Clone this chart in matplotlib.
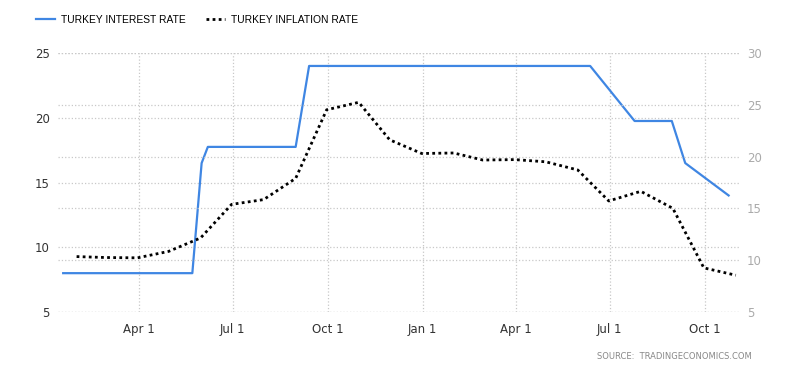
import pandas as pd
import matplotlib
matplotlib.use('Agg')
import matplotlib.pyplot as plt
import matplotlib.dates as mdates

# Turkey interest rate (policy rate decisions)
rate_dates = ['2018-01-18', '2018-03-07', '2018-04-25', '2018-05-23', '2018-06-01', '2018-06-07',
              '2018-07-24', '2018-08-31', '2018-09-13', '2018-10-25', '2018-12-13', '2019-01-16',
              '2019-03-06', '2019-04-25', '2019-06-12', '2019-07-25', '2019-08-30', '2019-09-12',
              '2019-10-24']
rate_values = [8, 8, 8, 8, 16.5, 17.75, 17.75, 17.75, 24, 24, 24, 24, 24, 24, 24, 19.75, 19.75, 16.5, 14]

# Turkey inflation rate (monthly, yoy)
infl_dates = pd.date_range('2018-01-31', '2019-10-31', freq='ME')
infl_values = [10.35, 10.26, 10.23, 10.85, 12.15, 15.39, 15.85, 17.90, 24.52, 25.24, 21.62, 20.30,
               20.35, 19.67, 19.71, 19.50, 18.71, 15.72, 16.65, 15.01, 9.26, 8.55]

tick_dates = ['2018-04-01', '2018-07-01', '2018-10-01', '2019-01-01', '2019-04-01', '2019-07-01', '2019-10-01']
left_ticks = [5, 10, 15, 20, 25]
right_ticks = [5, 10, 15, 20, 25, 30]

blue = '#3f86e3'
grid_kw = dict(color='#c8c8c8', linestyle=':', linewidth=0.9)

fig = plt.figure(figsize=(8, 3.73), dpi=100)
ax = fig.add_axes([0.0725, 0.1635, 0.8525, 0.6944])
ax2 = ax.twinx()

l1, = ax.plot(pd.to_datetime(rate_dates), rate_values, color=blue, lw=1.6, zorder=3)
l2, = ax2.plot(infl_dates, infl_values, color='black', lw=2.0, linestyle=(0, (1, 1.2)), zorder=3)

ax.set_xlim(pd.Timestamp('2018-01-13'), pd.Timestamp('2019-11-04'))
ax.set_ylim(5, 25)
ax2.set_ylim(5, 30)
ax.set_yticks(left_ticks)
ax2.set_yticks(right_ticks)
ax.set_xticks(pd.to_datetime(tick_dates))
ax.xaxis.set_major_formatter(mdates.DateFormatter('%b %-d'))

ax.grid(True, **grid_kw)
ax2.grid(True, axis='y', **grid_kw)
ax.set_axisbelow(True)
ax2.set_axisbelow(True)

for a in (ax, ax2):
    for s in a.spines.values():
        s.set_visible(False)
    a.tick_params(length=0)
ax.tick_params(axis='y', labelsize=8.5, labelcolor='#333333', pad=6)
ax.tick_params(axis='x', labelsize=8.5, labelcolor='#333333', pad=8)
ax2.tick_params(axis='y', labelsize=8.5, labelcolor='#aaaaaa', pad=5)

fig.legend([l1, l2], ['TURKEY INTEREST RATE', 'TURKEY INFLATION RATE'], ncol=2,
           loc='upper left', bbox_to_anchor=(0.033, 0.985), frameon=False,
           handlelength=1.9, handletextpad=0.6, columnspacing=1.9,
           prop={'family': 'Liberation Sans', 'size': 7.4})

fig.text(0.94, 0.045, 'SOURCE:  TRADINGECONOMICS.COM', ha='right', va='center',
         fontsize=6, color='#888888')

fig.savefig('out.png', dpi=100, facecolor='white')
